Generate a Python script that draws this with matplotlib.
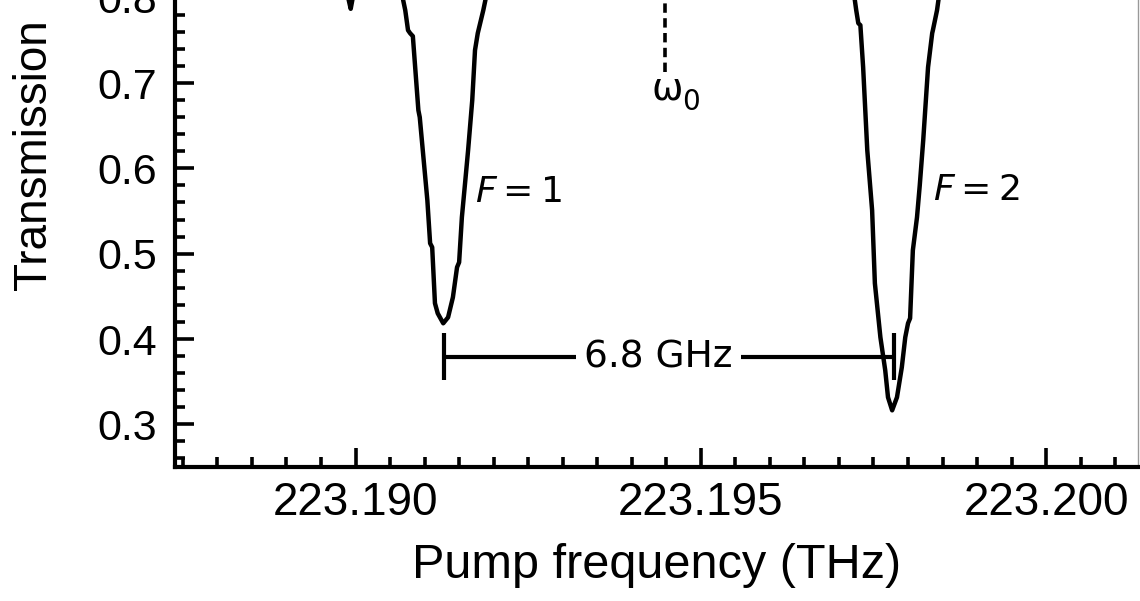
import matplotlib.pyplot as plt
from matplotlib.ticker import MultipleLocator

# transmission trace (THz, fraction)
freq = [223.1874, 223.1896, 223.18988, 223.18993, 223.18996, 223.1902,
        223.19066, 223.19069, 223.19072, 223.19076, 223.19079, 223.19083,
        223.19091, 223.19093, 223.19104, 223.19108, 223.19111, 223.19115,
        223.19119, 223.19127, 223.19134, 223.19141, 223.19147, 223.19150,
        223.19154, 223.19159, 223.19163, 223.19169, 223.19173, 223.19177,
        223.19185, 223.19188, 223.19192, 223.1945, 223.19720, 223.19723,
        223.19725, 223.19728, 223.19731, 223.19735, 223.19741, 223.19748,
        223.19752, 223.19760, 223.19767, 223.19771, 223.19777, 223.19784,
        223.19791, 223.19796, 223.19800, 223.19803, 223.19807, 223.19813,
        223.19817, 223.19822, 223.19829, 223.19835, 223.19836, 223.19842,
        223.19844, 223.19848, 223.2014]
trans = [0.84, 0.82, 0.805, 0.787, 0.80, 0.83,
         0.82, 0.797, 0.7853, 0.7619, 0.7584, 0.7549,
         0.6681, 0.6599, 0.5626, 0.5122, 0.5075, 0.4419,
         0.4301, 0.4184, 0.4254, 0.4489, 0.4841, 0.4899,
         0.5427, 0.5861, 0.6212, 0.6798, 0.7385, 0.7584,
         0.7853, 0.797, 0.82, 0.84, 0.82, 0.797,
         0.7853, 0.7701, 0.7678, 0.7185, 0.6212, 0.5509,
         0.4653, 0.4020, 0.3633, 0.3317, 0.3164, 0.3317,
         0.3668, 0.4020, 0.4184, 0.4243, 0.5040, 0.5427,
         0.5802, 0.6329, 0.7185, 0.7584, 0.7619, 0.7853,
         0.797, 0.82, 0.84]

# omega_0 marker
omega0 = 223.19448
omega0_bottom = 0.7127

# 6.8 GHz splitting bar
bar_x = [223.19128, 223.19780]
bar_y = 0.3785
bar_tick = [0.3516, 0.4067]
bar_label = "6.8 GHz"
bar_label_x = 223.19438

# hyperfine labels
f_labels = ["$F = 1$", "$F = 2$"]
f_label_x = [223.19173, 223.19836]
f_label_y = [0.5603, 0.5626]

xticks = [223.190, 223.195, 223.200]
xtick_labels = ["223.190", "223.195", "223.200"]
yticks = [0.3, 0.4, 0.5, 0.6, 0.7, 0.8]
ytick_labels = ["0.3", "0.4", "0.5", "0.6", "0.7", "0.8"]

plt.rcParams['mathtext.fontset'] = 'dejavusans'

fig = plt.figure(figsize=(11.4, 6.01), dpi=100)
ax = fig.add_axes([175 / 1140, 134 / 601, (1138 - 175) / 1140, (603.3 - 134) / 601])

ax.plot(freq, trans, color="black", lw=3.2, solid_joinstyle="round")

ax.vlines(omega0, omega0_bottom, 0.85, color="black", lw=2.6,
          linestyles=(0, (2.6, 1.5)))
ax.annotate("ω", xy=(omega0, omega0_bottom), xytext=(-9.5, -20),
            textcoords="offset points", ha="left", va="baseline",
            fontsize=27, family="DejaVu Sans")
ax.annotate("0", xy=(omega0, omega0_bottom), xytext=(12.5, -27),
            textcoords="offset points", ha="left", va="baseline",
            fontsize=20, family="DejaVu Sans")

ax.hlines(bar_y, bar_x[0], bar_x[1], color="black", lw=3)
ax.vlines(bar_x, bar_tick[0], bar_tick[1], color="black", lw=3)
ax.text(bar_label_x, bar_y, bar_label, ha="center", va="center",
        fontsize=27, family="DejaVu Sans", zorder=4,
        bbox=dict(facecolor="white", edgecolor="none", pad=6))

for lab, lx, ly in zip(f_labels, f_label_x, f_label_y):
    ax.text(lx, ly, lab, ha="left", va="baseline", fontsize=26)

ax.set_xlim(223.187386, 223.20133)
ax.set_ylim(0.25, 0.8)

ax.set_xticks(xticks)
ax.set_xticklabels(xtick_labels, fontsize=33, family="Liberation Sans")
ax.set_yticks(yticks)
ax.set_yticklabels(ytick_labels, fontsize=31, family="Liberation Sans")
ax.xaxis.set_minor_locator(MultipleLocator(0.0005))
ax.yaxis.set_minor_locator(MultipleLocator(0.02))

ax.tick_params(which="both", direction="in", width=2.6, color="black")
ax.tick_params(axis="x", which="major", length=14, pad=10)
ax.tick_params(axis="x", which="minor", length=7)
ax.tick_params(axis="y", which="major", length=14, pad=13)
ax.tick_params(axis="y", which="minor", length=7)

ax.spines["top"].set_visible(False)
ax.spines["left"].set_linewidth(3)
ax.spines["bottom"].set_linewidth(3)
ax.spines["right"].set_linewidth(1)
ax.spines["right"].set_color("#999999")

ax.set_xlabel("Pump frequency (THz)", fontsize=35, family="Liberation Sans",
              labelpad=13)
fig.text(34 / 1140, 1 - 155 / 601, "Transmission", rotation=90, ha="center",
         va="center", fontsize=33, family="Liberation Sans")

fig.savefig("out.png", dpi=100)
